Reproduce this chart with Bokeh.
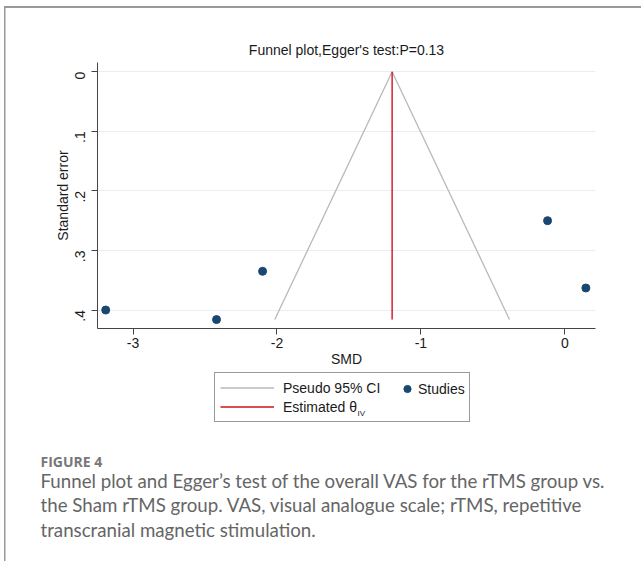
import math
import numpy as np
from bokeh.plotting import figure
from bokeh.models import Range1d, FixedTicker, Legend, LegendItem, Label
from bokeh.embed import file_html
from bokeh.resources import INLINE

# ---- data ----
study_smd = [-3.19, -2.42, -2.10, -0.12, 0.146]
study_se = [0.400, 0.416, 0.335, 0.250, 0.363]
theta_iv = -1.20
x_ticks = [-3, -2, -1, 0]
x_tick_labels = ["-3", "-2", "-1", "0"]
y_ticks = [0, 0.1, 0.2, 0.3, 0.4]
y_tick_labels = ["0", ".1", ".2", ".3", ".4"]
title_text = "Funnel plot,Egger's test:P=0.13"
caption_head = "FIGURE 4"
caption_lines = [
    "Funnel plot and Egger\u2019s test of the overall VAS for the rTMS group vs.",
    "the Sham rTMS group. VAS, visual analogue scale; rTMS, repetitive",
    "transcranial magnetic stimulation.",
]

se_max = max(study_se)
ci_left_x = [theta_iv, theta_iv - 1.96 * se_max]
ci_right_x = [theta_iv, theta_iv + 1.96 * se_max]
ci_y = [0.0, se_max]

FONT = "Liberation Sans"
CI_COLOR = "#b8b8b8"
EST_COLOR = "#d0101f"
PT_COLOR = "#1a476f"
BORDER = "#999999"

TOP_H = 370
BOT_H = 561 - TOP_H

p = figure(
    width=641, height=TOP_H,
    output_backend="svg", toolbar_location=None,
    x_range=Range1d(-3.247, 0.213),
    y_range=Range1d(0.431, -0.0155),
    min_border_left=97, min_border_right=46,
    min_border_top=62, min_border_bottom=42,
)
p.border_fill_color = None
p.background_fill_color = "white"
p.outline_line_color = None
p.styles = {
    "background": f"linear-gradient({BORDER},{BORDER}) 4px 6px / 637px 2px no-repeat, "
                  f"linear-gradient({BORDER},{BORDER}) 4px 6px / 1.5px {TOP_H}px no-repeat, white"
}

p.title.text = title_text
p.title.text_font = FONT
p.title.text_font_size = "14px"
p.title.text_font_style = "normal"
p.title.text_color = "#1a1a1a"
p.title.align = "center"
p.title.standoff = 9

p.xgrid.visible = False
p.ygrid.grid_line_color = "#e6eff1"
p.ygrid.grid_line_width = 1.2

for ax in (p.xaxis[0], p.yaxis[0]):
    ax.axis_line_color = "#444444"
    ax.major_tick_line_color = "#444444"
    ax.major_tick_in = 0
    ax.major_tick_out = 6
    ax.minor_tick_line_color = None
    ax.major_label_text_font = FONT
    ax.major_label_text_font_size = "14px"
    ax.major_label_text_color = "#1a1a1a"
    ax.axis_label_text_font = FONT
    ax.axis_label_text_font_size = "14px"
    ax.axis_label_text_font_style = "normal"
    ax.axis_label_text_color = "#1a1a1a"

p.xaxis.ticker = FixedTicker(ticks=x_ticks)
p.xaxis.major_label_overrides = dict(zip(x_ticks, x_tick_labels))
p.xaxis.axis_label = "SMD"
p.xaxis.major_label_standoff = 3
p.xaxis.axis_label_standoff = 0

p.yaxis.ticker = FixedTicker(ticks=y_ticks)
p.yaxis.major_label_overrides = dict(zip(y_ticks, y_tick_labels))
p.yaxis.major_label_orientation = math.pi / 2
p.yaxis.axis_label = "Standard error"
p.yaxis.major_label_standoff = 11
p.yaxis.axis_label_standoff = -3

p.line(ci_left_x, ci_y, line_color=CI_COLOR, line_width=1.3)
p.line(ci_right_x, ci_y, line_color=CI_COLOR, line_width=1.3)
p.line([theta_iv, theta_iv], ci_y, line_color=EST_COLOR, line_width=1.4)
p.scatter(study_smd, study_se, size=8, fill_color=PT_COLOR, line_color=PT_COLOR)

# ---- lower panel: legend and caption (separate root, frame = whole canvas) ----
q = figure(
    width=641, height=BOT_H, output_backend="svg", toolbar_location=None,
    x_range=Range1d(0, 1), y_range=Range1d(0, 1),
    x_axis_location=None, y_axis_location=None,
    min_border=0,
)
q.border_fill_color = None
q.background_fill_color = None
q.outline_line_color = None
q.grid.visible = False
q.styles = {
    "background": f"linear-gradient({BORDER},{BORDER}) 4px 0px / 1.5px {BOT_H}px no-repeat, white"
}

# legend keys: style-only proxies (a single undefined point, nothing is drawn)
nan1 = np.array([np.nan])
ci_proxy = q.line(x=nan1, y=nan1, line_color=CI_COLOR, line_width=1.3)
est_proxy = q.line(x=nan1, y=nan1, line_color=EST_COLOR, line_width=1.4)
pt_proxy = q.scatter(x=nan1, y=nan1, size=8, fill_color=PT_COLOR, line_color=PT_COLOR)

leg1 = Legend(
    items=[LegendItem(label="Pseudo 95% CI", renderers=[ci_proxy]),
           LegendItem(label="Estimated \u03b8", renderers=[est_proxy])],
    location=(214, BOT_H - (422 - TOP_H)), orientation="vertical",
    padding=5, spacing=0, margin=0,
    glyph_width=54, glyph_height=19, label_height=19, label_width=181,
    label_standoff=9,
    label_text_font=FONT, label_text_font_size="14px", label_text_color="#1a1a1a",
    border_line_color="#333333", border_line_width=1,
    background_fill_alpha=0,
)
leg2 = Legend(
    items=[LegendItem(label="Studies", renderers=[pt_proxy])],
    location=(398, BOT_H - (398 - TOP_H)), orientation="vertical",
    padding=0, spacing=0, margin=0,
    glyph_width=18, glyph_height=19, label_height=19,
    label_standoff=2,
    label_text_font=FONT, label_text_font_size="14px", label_text_color="#1a1a1a",
    border_line_alpha=0, background_fill_alpha=0,
)
q.add_layout(leg1, "center")
q.add_layout(leg2, "center")

q.add_layout(Label(x=357, y=BOT_H - (412.5 - TOP_H), x_units="screen", y_units="screen",
                   text="IV", text_font=FONT, text_font_size="8px",
                   text_color="#1a1a1a", text_baseline="alphabetic", level="overlay"))

q.add_layout(Label(x=40, y=BOT_H - (460.7 - TOP_H), x_units="screen", y_units="screen",
                   text=caption_head, text_font="Open Sans", text_font_size="14px",
                   text_font_style="bold", text_color="#777777",
                   text_baseline="alphabetic"))
for i, line in enumerate(caption_lines):
    q.add_layout(Label(x=40, y=BOT_H - (480 + 24.5 * i - TOP_H),
                       x_units="screen", y_units="screen",
                       text=line, text_font="Lato", text_font_size="18.7px",
                       text_color="#656565", text_baseline="alphabetic"))

open("out.html", "w").write(file_html([p, q], INLINE))
